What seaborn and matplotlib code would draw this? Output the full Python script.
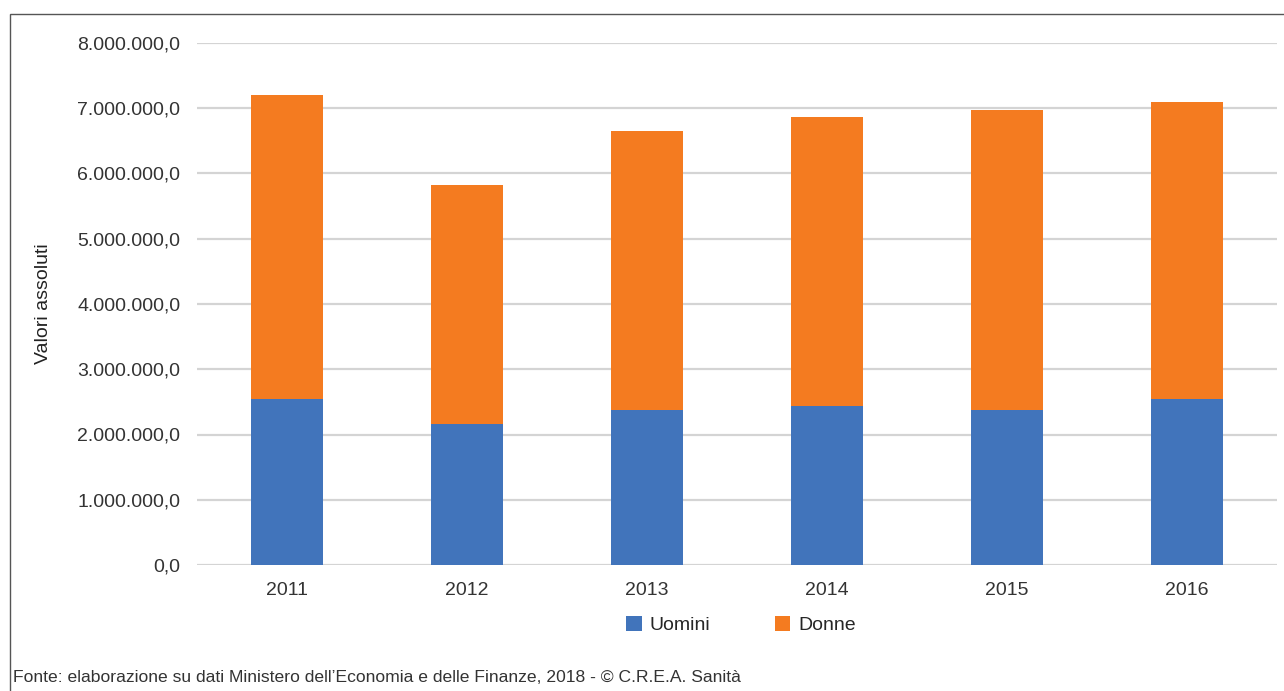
import matplotlib
matplotlib.use("Agg")
import matplotlib.pyplot as plt
import seaborn as sns
import pandas as pd
import numpy as np
from matplotlib.patches import Rectangle, Patch
from matplotlib.ticker import FuncFormatter, MultipleLocator

years = ["2011", "2012", "2013", "2014", "2015", "2016"]
uomini = [2544000, 2166000, 2380000, 2430000, 2380000, 2544000]
donne = [4654000, 3664000, 4270000, 4436000, 4600000, 4546000]
series_names = ["Uomini", "Donne"]
colors = ["#4174BB", "#F47B20"]

sns.set_theme(style="white")
from matplotlib import font_manager
names = {f.name for f in font_manager.fontManager.ttflist}
fam = "Liberation Sans Narrow" if "Liberation Sans Narrow" in names else "Liberation Sans"
plt.rcParams["font.family"] = [fam, "DejaVu Sans"]

df = pd.DataFrame({"anno": years, "Uomini": uomini, "Donne": donne})
df["Totale"] = df["Uomini"] + df["Donne"]

fig = plt.figure(figsize=(12.84, 6.91), dpi=100)
ax = fig.add_axes([197/1284, 1-565/691, (1277-197)/1284, (565-43)/691])

sns.barplot(data=df, x="anno", y="Totale", color=colors[1], width=0.4, ax=ax,
            saturation=1, edgecolor="none", zorder=3)
sns.barplot(data=df, x="anno", y="Uomini", color=colors[0], width=0.4, ax=ax,
            saturation=1, edgecolor="none", zorder=4)

ax.set_ylim(0, 8000000)
ax.set_xlim(-0.5, 5.5)
ax.yaxis.set_major_locator(MultipleLocator(1000000))

def fmt(v, pos):
    s = f"{int(round(v)):,}".replace(",", ".")
    return s + ",0"
ax.yaxis.set_major_formatter(FuncFormatter(fmt))
ax.grid(axis="y", color="#d4d4d4", linewidth=1.6, zorder=0)
ax.set_axisbelow(True)
for s in ax.spines.values():
    s.set_visible(False)
ax.tick_params(axis="both", length=0, labelsize=14, colors="#333333")
ax.tick_params(axis="y", pad=12)
ax.tick_params(axis="x", pad=12)
ax.set_xlabel("")
ax.set_ylabel("Valori assoluti", fontsize=14, color="#222222")
ax.yaxis.set_label_coords(-0.134, 0.5)

handles = [Patch(facecolor=c, edgecolor="none") for c in colors]
fig.legend(handles, series_names, loc="center", bbox_to_anchor=(741/1284, 1-625/691),
           ncol=2, frameon=False, fontsize=14, handlelength=0.8, handleheight=0.8,
           columnspacing=3.3, handletextpad=0.4)

fig.text(13/1284, 1-678/691, "Fonte: elaborazione su dati Ministero dell\u2019Economia e delle Finanze, 2018 - \u00a9 C.R.E.A. Sanit\u00e0",
         fontsize=12.6, color="#333333", va="center", ha="left")

rect = Rectangle((10/1284, -0.1), 1.1, 1.1 - 14/691, transform=fig.transFigure,
                 fill=False, edgecolor="#555555", linewidth=1, clip_on=False)
fig.add_artist(rect)

fig.savefig("out.png", dpi=100)
